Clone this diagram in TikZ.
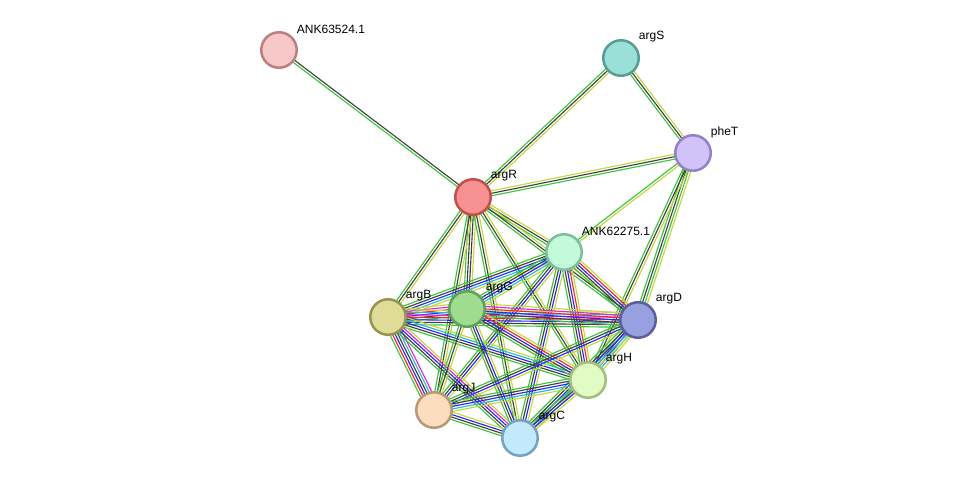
\documentclass[tikz,border=0pt]{standalone}
\usepackage{fontspec}
\setmainfont{Liberation Sans}
\usetikzlibrary{calc}
\pgfdeclarelayer{bg}
\pgfsetlayers{bg,main}
\definecolor{eG}{RGB}{60,196,60}
\definecolor{eY}{RGB}{196,214,60}
\definecolor{eK}{RGB}{64,64,64}
\definecolor{eB}{RGB}{40,40,240}
\definecolor{eR}{RGB}{240,40,40}
\definecolor{eM}{RGB}{220,40,220}
\definecolor{eC}{RGB}{40,184,220}
\tikzset{
  prot/.style={circle, inner sep=0pt, minimum size=26.6pt, line width=1.9pt},
  lbl/.style={anchor=west, inner sep=0.5pt, font=\fontsize{9}{10}\selectfont},
}
\newcommand\edg[4]{%
  \foreach \cc [count=\ii] in {#4}{%
    \pgfmathsetmacro\off{(\ii-(#3+1)/2)*1.85}%
    \draw[\cc, line width=0.85pt] ($(#1.center)!\off pt!90:(#2.center)$) -- ($(#2.center)!\off pt!-90:(#1.center)$);
  }%
}
\begin{document}
\begin{tikzpicture}[x=0.75pt, y=-0.75pt]
\useasboundingbox (0,0) rectangle (976,483);
% nodes
\node[prot, fill={rgb,255:red,248;green,200;blue,200}, draw={rgb,255:red,188;green,128;blue,128}] (n1) at (279,50) {};
\node[prot, fill={rgb,255:red,154;green,224;blue,216}, draw={rgb,255:red,88;green,158;blue,148}] (argS) at (621,58) {};
\node[prot, fill={rgb,255:red,210;green,194;blue,250}, draw={rgb,255:red,150;green,128;blue,198}] (pheT) at (693,153) {};
\node[prot, fill={rgb,255:red,248;green,146;blue,146}, draw={rgb,255:red,192;green,80;blue,80}] (argR) at (473,197) {};
\node[prot, fill={rgb,255:red,194;green,250;blue,218}, draw={rgb,255:red,126;green,190;blue,158}] (n2) at (564,252) {};
\node[prot, fill={rgb,255:red,222;green,220;blue,150}, draw={rgb,255:red,150;green,148;blue,80}] (argB) at (388,317) {};
\node[prot, fill={rgb,255:red,160;green,220;blue,144}, draw={rgb,255:red,96;green,160;blue,90}] (argG) at (467,309) {};
\node[prot, fill={rgb,255:red,152;green,160;blue,224}, draw={rgb,255:red,88;green,96;blue,160}] (argD) at (638,320) {};
\node[prot, fill={rgb,255:red,226;green,250;blue,196}, draw={rgb,255:red,160;green,192;blue,128}] (argH) at (588,380) {};
\node[prot, fill={rgb,255:red,252;green,222;blue,190}, draw={rgb,255:red,184;green,152;blue,120}] (argJ) at (434,410) {};
\node[prot, fill={rgb,255:red,194;green,234;blue,252}, draw={rgb,255:red,120;green,162;blue,192}] (argC) at (520,438) {};
% labels
\node[lbl] (l1) at ($(n1)+(17,-21)$) {ANK63524.1};
\node[lbl] (lS) at ($(argS)+(17,-21)$) {argS};
\node[lbl] (lT) at ($(pheT)+(17,-21)$) {pheT};
\node[lbl] (lR) at ($(argR)+(17,-21)$) {argR};
\node[lbl] (l2) at ($(n2)+(17,-21)$) {ANK62275.1};
\node[lbl] (lB) at ($(argB)+(17,-21)$) {argB};
\node[lbl] (lG) at ($(argG)+(18,-21)$) {argG};
\node[lbl] (lD) at ($(argD)+(17,-21)$) {argD};
\node[lbl] (lH) at ($(argH)+(17,-21)$) {argH};
\node[lbl] (lJ) at ($(argJ)+(17,-21)$) {argJ};
\node[lbl] (lC) at ($(argC)+(18,-21)$) {argC};
% edges
\begin{pgfonlayer}{bg}
\edg{n1}{argR}{2}{eG,eK}
\edg{argS}{argR}{3}{eG,eK,eY}
\edg{argS}{pheT}{3}{eG,eK,eY}
\edg{argR}{pheT}{3}{eG,eK,eY}
\edg{pheT}{n2}{2}{eG,eY}
\edg{pheT}{argD}{4}{eG,eK,eG,eY}
\edg{pheT}{argH}{3}{eG,eK,eY}
\edg{argR}{n2}{3}{eG,eK,eY}
\edg{argR}{argB}{3}{eG,eK,eY}
\edg{argR}{argG}{4}{eG,eK,eK,eY}
\edg{argR}{argJ}{3}{eG,eK,eY}
\edg{argR}{argC}{3}{eG,eK,eY}
\edg{argR}{argH}{3}{eG,eK,eY}
\edg{argR}{argD}{3}{eG,eK,eY}
\edg{n2}{argB}{5}{eG,eK,eB,eC,eY}
\edg{n2}{argG}{5}{eG,eK,eB,eC,eY}
\edg{n2}{argD}{5}{eG,eK,eB,eR,eY}
\edg{n2}{argH}{5}{eG,eK,eB,eR,eY}
\edg{n2}{argJ}{4}{eG,eK,eB,eY}
\edg{n2}{argC}{4}{eG,eK,eB,eY}
\edg{argB}{argG}{6}{eG,eK,eB,eR,eM,eY}
\edg{argB}{argD}{7}{eG,eK,eB,eR,eM,eC,eY}
\edg{argB}{argH}{5}{eG,eK,eB,eC,eY}
\edg{argB}{argJ}{6}{eG,eR,eB,eK,eC,eM}
\edg{argB}{argC}{5}{eG,eK,eB,eM,eY}
\edg{argG}{argD}{6}{eG,eK,eB,eR,eM,eY}
\edg{argG}{argH}{5}{eG,eK,eB,eR,eY}
\edg{argG}{argJ}{3}{eG,eK,eY}
\edg{argG}{argC}{4}{eG,eK,eB,eY}
\edg{argD}{argH}{5}{eG,eK,eB,eC,eY}
\edg{argD}{argJ}{4}{eG,eK,eB,eY}
\edg{argD}{argC}{5}{eG,eK,eB,eC,eY}
\edg{argH}{argJ}{5}{eG,eK,eB,eC,eY}
\edg{argH}{argC}{4}{eG,eK,eB,eY}
\edg{argJ}{argC}{4}{eG,eK,eB,eY}
\end{pgfonlayer}
\end{tikzpicture}
\end{document}
